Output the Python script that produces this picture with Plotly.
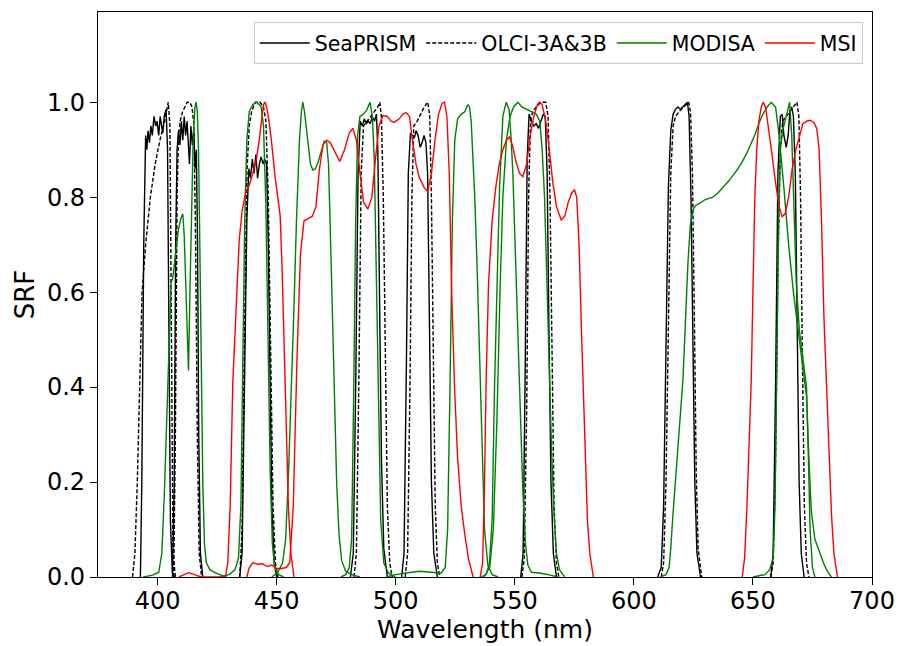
import plotly.graph_objects as go

# ---------------- SeaPRISM (solid black) ----------------
sp_b1 = [(392.8,0),(393.4,0.2),(394.2,0.7),(395,0.93),(395.5,0.9),(396,0.94),(396.6,0.915),(397.2,0.95),(397.8,0.93),(398.5,0.97),(399.2,0.95),(399.8,0.96),(400.5,0.93),(401.1,0.97),(401.7,0.95),(402.2,0.935),(402.8,0.97),(403.6,0.985),(404.2,0.9),(404.8,0.5),(405.4,0.12),(406.2,0.01),(407,0)]
sp_b2 = [(406.3,0),(407,0.2),(407.6,0.7),(408.2,0.9),(408.8,0.94),(409.4,0.91),(410,0.96),(410.6,0.92),(411.2,0.97),(411.8,0.93),(412.4,0.96),(413,0.9),(413.4,0.87),(414,0.95),(414.6,0.91),(415.2,0.94),(415.8,0.86),(416.3,0.9),(416.8,0.7),(417.3,0.3),(418,0.05),(419,0)]
sp_b3 = [(434.5,0),(435.5,0.05),(436.5,0.4),(437.5,0.75),(438.3,0.86),(439,0.84),(439.8,0.88),(440.5,0.85),(441.3,0.89),(442,0.84),(442.8,0.87),(443.5,0.885),(444.3,0.87),(445,0.88),(445.8,0.87),(446.5,0.7),(447.3,0.4),(448,0.15),(449,0.03),(450,0)]
sp_b4 = [(481,0),(482.2,0.05),(483.2,0.4),(484.2,0.85),(485.1,0.96),(486,0.95),(486.8,0.965),(487.6,0.955),(488.5,0.96),(489.3,0.955),(490.2,0.97),(491.1,0.96),(491.9,0.975),(492.5,0.9),(493.2,0.6),(494,0.25),(495,0.06),(496.5,0)]
sp_b5 = [(502.5,0),(503.5,0.05),(504.5,0.45),(505.3,0.85),(506.2,0.935),(507,0.93),(507.8,0.925),(508.6,0.94),(509.4,0.93),(510.3,0.905),(511.1,0.915),(511.9,0.93),(512.7,0.915),(513.4,0.85),(514.2,0.5),(515,0.2),(516,0.05),(517.5,0)]
sp_b6 = [(552.5,0),(553.5,0.05),(554.3,0.4),(555.2,0.88),(556,0.975),(557,0.96),(558,0.95),(559,0.955),(560,0.945),(561,0.96),(562,0.975),(562.8,0.97),(563.6,0.85),(564.4,0.5),(565.2,0.2),(566.2,0.05),(567.5,0)]
sp_b7 = [(610,0),(611.5,0.02),(612.5,0.15),(613.5,0.5),(614.5,0.82),(615.5,0.94),(616.5,0.975),(617.5,0.985),(618.5,0.99),(619.5,0.985),(620.5,0.99),(621.5,0.995),(622.5,1.0),(623.2,0.97),(624,0.8),(624.8,0.5),(625.6,0.2),(626.5,0.05),(628,0)]
sp_b8 = [(657.5,0),(658.5,0.05),(659.5,0.4),(660.5,0.85),(661.5,0.97),(662.3,0.975),(663,0.93),(664,0.905),(664.8,0.93),(665.5,0.98),(666.3,0.99),(667,0.97),(667.8,0.85),(668.6,0.5),(669.4,0.2),(670.3,0.05),(671.5,0)]

# ---------------- OLCI-3A&3B (dashed black) ----------------
ol_b1 = [(389.5,0),(390.5,0.05),(391.5,0.2),(392.5,0.4),(393.5,0.6),(395,0.7),(397,0.8),(399,0.87),(401,0.92),(403,0.96),(404.5,1.0),(405.2,0.95),(405.8,0.5),(406.5,0.05),(407.5,0)]
ol_b2 = [(406.8,0),(407.5,0.3),(408.2,0.8),(408.8,0.93),(409.5,0.96),(410.5,0.98),(411.5,0.99),(412.5,1.0),(413.5,1.0),(414.5,0.99),(415.3,0.95),(416,0.7),(416.7,0.3),(417.5,0.05),(418.5,0)]
ol_b3 = [(434.5,0),(435.5,0.1),(436.5,0.5),(437.5,0.85),(438.5,0.95),(439.5,0.98),(441,1.0),(443,1.0),(444.5,0.99),(445.5,0.96),(446.5,0.8),(447.5,0.45),(448.5,0.15),(449.5,0.03),(450.5,0)]
ol_b4 = [(482.5,0),(483.5,0.05),(484.5,0.4),(485.5,0.85),(486.5,0.95),(488,0.96),(489.5,0.97),(491,0.98),(492.5,0.99),(493.3,1.0),(494,0.97),(494.8,0.8),(495.6,0.45),(496.5,0.15),(497.5,0.03),(498.5,0)]
ol_b5 = [(504,0),(505,0.05),(506,0.4),(506.8,0.8),(507.6,0.95),(509,0.96),(510.5,0.975),(512,0.99),(513.5,1.0),(514.3,0.97),(515,0.8),(515.8,0.45),(516.6,0.15),(517.5,0.03),(518.5,0)]
ol_b6 = [(553,0),(554,0.04),(555,0.35),(555.8,0.8),(556.6,0.96),(557.5,0.98),(559,0.99),(561,1.0),(563,1.0),(564,0.97),(564.8,0.8),(565.6,0.45),(566.5,0.15),(567.5,0.03),(568.5,0)]
ol_b7 = [(611.5,0),(612.5,0.03),(613.5,0.2),(614.5,0.55),(615.5,0.85),(616.5,0.95),(617.5,0.97),(619,0.98),(621,0.99),(623,1.0),(623.8,0.98),(624.6,0.85),(625.4,0.55),(626.2,0.22),(627,0.06),(628.5,0)]
ol_b8 = [(657.5,0),(658.5,0.03),(659.5,0.25),(660.5,0.65),(661.5,0.9),(662.5,0.96),(664,0.97),(665.5,0.98),(667,0.99),(668.5,1.0),(669.3,0.97),(670,0.8),(670.8,0.45),(671.6,0.15),(672.5,0.03),(673.5,0)]

# ---------------- MODISA (green) ----------------
mo_412 = [(394,0),(398,0.004),(400.5,0.01),(401.8,0.05),(402.9,0.18),(404.3,0.39),(405.2,0.57),(405.7,0.62),(406.4,0.63),(407.5,0.68),(408.7,0.73),(409.8,0.755),(410.6,0.765),(411.2,0.72),(411.9,0.6),(412.5,0.48),(413,0.435),(413.6,0.6),(414.3,0.8),(415,0.93),(415.7,0.99),(416.2,1.0),(416.7,0.98),(417.2,0.9),(417.8,0.68),(418.4,0.42),(419,0.2),(419.7,0.07),(420.5,0.03),(422,0.015),(425,0.007),(429,0)]
mo_443 = [(426,0),(430,0.005),(432.5,0.015),(434,0.04),(435,0.15),(435.8,0.45),(436.6,0.75),(437.5,0.92),(438.5,0.98),(440,0.995),(441.8,1.0),(443.5,0.99),(444.5,0.95),(445.5,0.78),(446.4,0.5),(447.3,0.22),(448.2,0.07),(449.2,0.02),(450.8,0.005),(453,0)]
mo_469 = [(448,0),(450.5,0.01),(452.5,0.03),(453.8,0.08),(455,0.22),(456.2,0.39),(457.3,0.57),(458.3,0.745),(459.6,0.92),(460.4,0.98),(461,1.0),(461.7,0.98),(462.5,0.94),(463.3,0.9),(464.2,0.87),(465.2,0.857),(466.3,0.86),(467.5,0.875),(468.8,0.9),(470,0.918),(471,0.915),(471.8,0.87),(472.6,0.72),(473.4,0.55),(474.3,0.36),(475.2,0.2),(476.2,0.09),(477.3,0.035),(479,0.012),(482,0.004),(485,0)]
mo_488 = [(477,0),(479,0.005),(480.5,0.02),(481.5,0.08),(482.4,0.4),(483.2,0.75),(484,0.93),(485,0.97),(486.5,0.975),(488,0.985),(489.2,1.0),(490.2,0.97),(491,0.88),(491.8,0.65),(492.7,0.35),(493.7,0.12),(495,0.03),(497,0.008),(500,0)]
mo_531 = [(496,0),(500,0.005),(505,0.009),(510,0.012),(515,0.01),(519,0.008),(520.8,0.02),(521.8,0.1),(522.8,0.4),(523.8,0.75),(524.8,0.92),(526,0.965),(527.5,0.975),(529,0.98),(530.3,0.995),(531,0.99),(531.7,0.96),(532.5,0.87),(533.2,0.8),(534.2,0.65),(535.2,0.46),(536.3,0.26),(537.3,0.1),(538.7,0.025),(540.5,0.005),(543,0)]
mo_547 = [(536,0),(538,0.005),(539.4,0.03),(540.5,0.12),(541.5,0.4),(542.5,0.62),(543.6,0.82),(545,0.97),(546.4,1.0),(547.6,0.985),(548.4,0.93),(549.2,0.85),(550.2,0.7),(551.3,0.535),(552.4,0.34),(553.4,0.18),(554.5,0.07),(555.5,0.025),(557,0.01),(561,0.008),(565,0.004),(568,0)]
mo_555 = [(537,0),(539.5,0.02),(541,0.1),(542.5,0.33),(543.8,0.6),(545,0.8),(546.5,0.92),(548,0.97),(549.5,0.99),(551.3,1.0),(553,0.99),(555,0.985),(557,0.98),(559,0.975),(560.5,0.96),(561.5,0.9),(562.5,0.8),(563.5,0.62),(564.5,0.43),(565.5,0.26),(566.5,0.13),(567.5,0.05),(568.8,0.015),(571,0)]
mo_645 = [(611,0),(613.5,0.005),(614.8,0.02),(615.5,0.06),(616.4,0.13),(617.5,0.2),(618.5,0.27),(619.5,0.34),(620.6,0.415),(621.6,0.53),(622.7,0.66),(623.7,0.74),(624.8,0.773),(626,0.783),(627.6,0.787),(630,0.795),(633.2,0.8),(635.5,0.81),(637.4,0.82),(640,0.835),(643,0.855),(645,0.87),(647.2,0.89),(649,0.91),(650.7,0.93),(652.5,0.955),(654.2,0.975),(656,0.99),(657.7,1.0),(659.5,0.99),(661,0.93),(663,0.82),(665,0.7),(667,0.6),(669,0.52),(671,0.45),(672.5,0.38),(673.5,0.25),(674.5,0.14),(676,0.08),(678,0.05),(680,0.025),(681.5,0.01),(683,0)]
mo_667 = [(650,0),(655,0.005),(657,0.015),(658.5,0.04),(659.3,0.15),(660,0.45),(660.8,0.75),(661.5,0.9),(662.5,0.94),(663.5,0.96),(664.5,0.985),(665.4,1.0),(666.3,0.93),(667.2,0.78),(668.2,0.62),(669.5,0.52),(671,0.46),(672.5,0.4),(673.3,0.25),(674,0.1),(675,0.02),(676,0)]

# ---------------- MSI (red) ----------------
ms_b1 = [(409,0),(411,0.005),(413,0.009),(415,0.006),(417,0.002),(419,0),(428.5,0),(429.5,0.03),(430.5,0.15),(431.6,0.41),(432.5,0.53),(433.3,0.6),(434.3,0.71),(435.5,0.77),(437,0.81),(438.5,0.825),(440,0.85),(441.5,0.88),(442.7,0.92),(443.7,0.97),(444.5,0.995),(445.2,1.0),(446,0.985),(446.8,0.96),(447.8,0.92),(449.2,0.85),(450.5,0.8),(451.5,0.76),(452.3,0.65),(453.1,0.48),(454,0.3),(455,0.14),(456,0.05),(457.3,0)]
ms_b2 = [(437.5,0),(438.5,0.02),(440,0.03),(442,0.027),(444,0.028),(446,0.022),(448,0.025),(450,0.018),(452,0.018),(454,0.02),(455.5,0.03),(457,0.15),(458.5,0.45),(460,0.68),(461.5,0.75),(463,0.755),(465,0.76),(466.5,0.78),(468,0.86),(469.5,0.91),(471,0.92),(472.5,0.915),(474.5,0.895),(476.5,0.875),(478.5,0.9),(480.5,0.935),(482,0.945),(483.5,0.92),(485,0.85),(486.5,0.79),(488.3,0.775),(490,0.8),(491.5,0.88),(493,0.95),(494.6,0.972),(496.5,0.97),(498,0.96),(499.5,0.958),(501.5,0.965),(503,0.975),(504.4,0.978),(505.8,0.97),(507,0.92),(508.5,0.87),(510,0.84),(512,0.82),(513.5,0.812),(515,0.85),(516.5,0.92),(518,0.975),(519.5,0.998),(520.5,1.0),(521.5,0.97),(522.5,0.85),(523.5,0.6),(524.7,0.4),(526,0.25),(527.5,0.15),(529,0.09),(530.5,0.04),(532.5,0)]
ms_b3 = [(535.5,0),(536.5,0.03),(537.3,0.2),(538,0.42),(539,0.62),(540.5,0.75),(542,0.82),(543.5,0.87),(545,0.9),(546.5,0.92),(547.8,0.927),(549,0.91),(550.5,0.875),(552,0.85),(553.4,0.843),(555,0.87),(556.5,0.93),(558,0.97),(559.5,0.995),(560.4,1.0),(561.5,0.995),(563,0.96),(564.5,0.9),(566,0.83),(567.5,0.78),(569.5,0.752),(571,0.76),(572.5,0.79),(574,0.81),(575.1,0.815),(576,0.8),(577,0.7),(578,0.52),(578.6,0.415),(579.5,0.25),(580.5,0.12),(581.5,0.05),(583,0)]
ms_b4 = [(645.5,0),(646.5,0.04),(647.5,0.15),(648.5,0.3),(649.3,0.415),(650,0.6),(650.8,0.8),(651.6,0.9),(652.5,0.96),(653.5,0.99),(654.3,1.0),(655.3,0.99),(656.5,0.95),(658,0.89),(659.5,0.83),(661,0.78),(662.3,0.759),(663.5,0.765),(665,0.8),(666.5,0.86),(668,0.9),(669.5,0.93),(671,0.955),(672.5,0.96),(674,0.962),(675.5,0.958),(676.8,0.945),(677.8,0.9),(678.8,0.75),(679.8,0.55),(680.8,0.415),(682,0.25),(683,0.13),(684,0.05),(685.5,0)]

x_ticks = [400, 450, 500, 550, 600, 650, 700]
y_ticks = [0.0, 0.2, 0.4, 0.6, 0.8, 1.0]
y_tick_text = ["0.0", "0.2", "0.4", "0.6", "0.8", "1.0"]

sensors = [
    ("SeaPRISM", [sp_b1, sp_b2, sp_b3, sp_b4, sp_b5, sp_b6, sp_b7, sp_b8], "black", "solid"),
    ("OLCI-3A&3B", [ol_b1, ol_b2, ol_b3, ol_b4, ol_b5, ol_b6, ol_b7, ol_b8], "black", "4px,2px"),
    ("MODISA", [mo_412, mo_443, mo_469, mo_488, mo_531, mo_547, mo_555, mo_645, mo_667], "#008000", "solid"),
    ("MSI", [ms_b1, ms_b2, ms_b3, ms_b4], "#ff0000", "solid"),
]


def join(bands):
    xs, ys = [], []
    for b in bands:
        for w, v in b:
            xs.append(w)
            ys.append(v)
        xs.append(None)
        ys.append(None)
    return xs, ys


fig = go.Figure()
for name, bands, color, dash in sensors:
    xs, ys = join(bands)
    fig.add_trace(go.Scatter(x=xs, y=ys, mode="lines", name=name,
                             line=dict(color=color, width=1.4, dash=dash),
                             connectgaps=False))

FONT = "DejaVu Sans"
axis_common = dict(showline=True, linecolor="black", linewidth=1.3, mirror=True,
                   ticks="outside", ticklen=7, tickwidth=1.3, tickcolor="black",
                   showgrid=False, zeroline=False, automargin=False,
                   tickfont=dict(family=FONT, size=24, color="black"))

fig.update_layout(
    width=899, height=646,
    margin=dict(l=98, r=27, t=12, b=69),
    paper_bgcolor="white", plot_bgcolor="white",
    font=dict(family=FONT, color="black"),
    showlegend=True,
    legend=dict(orientation="h", x=0.988, xanchor="right", y=0.982, yanchor="top",
                font=dict(family=FONT, size=20.5, color="black"),
                bgcolor="rgba(255,255,255,0.8)", bordercolor="#cccccc", borderwidth=1,
                itemwidth=50, traceorder="normal"),
)
fig.update_xaxes(range=[375, 700], tickvals=x_ticks, ticklabelstandoff=-5,
                 title=dict(text="Wavelength (nm)", font=dict(family=FONT, size=25, color="black"), standoff=2),
                 **axis_common)
fig.update_yaxes(range=[0, 1.19], tickvals=y_ticks, ticktext=y_tick_text,
                 title=dict(text="SRF", font=dict(family=FONT, size=26, color="black"), standoff=4),
                 **axis_common)

fig.write_html("out.html")
